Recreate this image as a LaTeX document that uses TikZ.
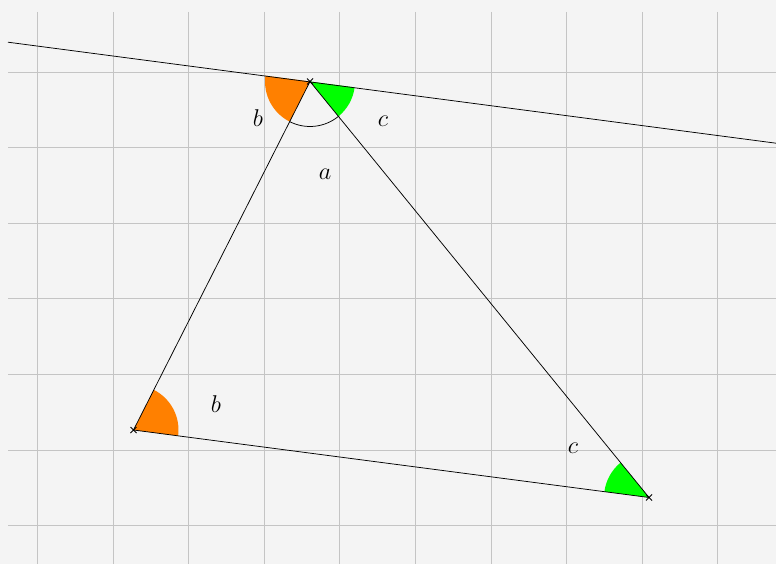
\documentclass[tikz,border=0pt]{standalone}
\usepackage{tikz}
\definecolor{bg}{HTML}{F4F4F4}
\definecolor{gridc}{HTML}{C4C4C4}
\definecolor{ggorange}{HTML}{FF8000}
\definecolor{gggreen}{HTML}{00FF00}
\tikzset{
  gridline/.style={draw=gridc, line width=0.8pt},
  seg/.style={draw=black, line width=0.75pt},
  lbl/.style={font=\huge, scale=1.17, inner sep=0pt},
  ptmark/.style={draw=black, line width=0.75pt}
}
\begin{document}
\begin{tikzpicture}[x=1pt,y=1pt]
\fill[bg] (0,0) rectangle (776,-564);
\useasboundingbox (0,0) rectangle (776,-564);
% grid
\foreach \gx in {37.3,112.9,188.5,264.1,339.7,415.3,490.9,566.5,642.1,717.7}
  \draw[gridline] (\gx,-12) -- (\gx,-564);
\foreach \gy in {72,147.6,223.2,298.8,374.4,450,525.6}
  \draw[gridline] (8,-\gy) -- (776,-\gy);
% points
\coordinate (A) at (133.5,-430);
\coordinate (B) at (310,-81.5);
\coordinate (C) at (649,-497.5);
\coordinate (L) at (8,-42.2);
\coordinate (R) at (776,-143.2);
% sectors
\fill[ggorange] (A) -- ++(-7.46:45pt) arc[start angle=-7.46, end angle=63.14, radius=45pt] -- cycle;
\fill[gggreen] (C) -- ++(129.17:45pt) arc[start angle=129.17, end angle=172.54, radius=45pt] -- cycle;
\fill[ggorange] (B) -- ++(172.54:45pt) arc[start angle=172.54, end angle=243.14, radius=45pt] -- cycle;
\fill[gggreen] (B) -- ++(309.17:45pt) arc[start angle=309.17, end angle=352.54, radius=45pt] -- cycle;
\draw[seg] (B) ++(243.14:45pt) arc[start angle=243.14, end angle=309.17, radius=45pt];
% lines
\draw[seg] (L) -- (R);
\draw[seg] (A) -- (B) -- (C) -- (A);
% point marks
\foreach \p in {A,B,C}
  \draw[ptmark] (\p) ++(-3pt,-3pt) -- ++(6pt,6pt) (\p) ++(-3pt,3pt) -- ++(6pt,-6pt);
% labels
\node[lbl] (lb1) at (258,-118) {$b$};
\node[lbl] (lc1) at (383,-121) {$c$};
\node[lbl] (la) at (325,-174) {$a$};
\node[lbl] (lb2) at (216,-404) {$b$};
\node[lbl] (lc2) at (573,-448) {$c$};
\end{tikzpicture}
\end{document}
